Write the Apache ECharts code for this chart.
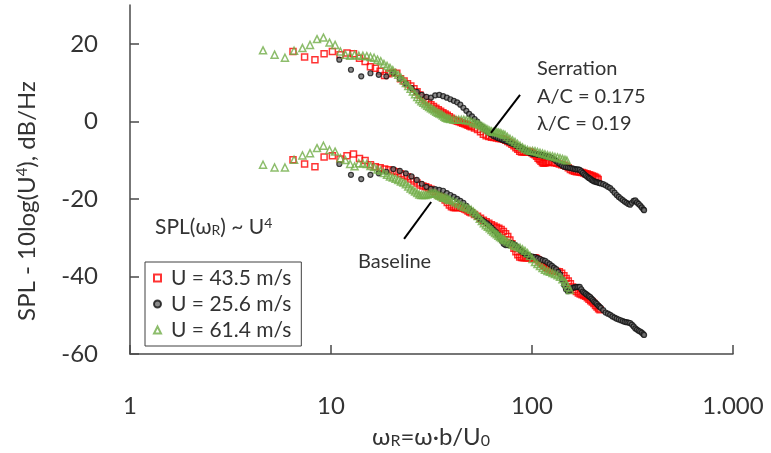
<!DOCTYPE html>
<html><head><meta charset="utf-8">
<script src="https://cdn.jsdelivr.net/npm/echarts@6/dist/echarts.min.js"></script>
<style>html,body{margin:0;padding:0;background:#fff}#c{width:771px;height:453px}</style>
</head><body><div id="c"></div>
<script>
// ---- tick values / labels ----
const xTickValues = [1, 10, 100, 1000];
const xTickLabels = ['1', '10', '100', '1.000'];
const yTickValues = [-60, -40, -20, 0, 20];
const seriesNames = ['U = 43.5 m/s', 'U = 25.6 m/s', 'U = 61.4 m/s'];

// ---- Serration (upper group), [omega_R, SPL - 10log(U^4)] ----
const serration43 = [[6.47,18.0],[7.39,16.6],[8.32,15.9],[9.24,17.4],[10.16,18.0],[11.09,17.2],[12.01,17.6],[12.94,17.4],[13.86,16.3],[14.78,15.4],[15.71,14.1],[16.63,13.7],[17.56,12.9],[18.48,11.8],[19.4,12.3],[20.33,12.6],[21.25,12.4],[22.18,11.0],[23.1,10.4],[24.02,9.7],[24.95,9.1],[25.87,8.4],[26.8,7.6],[27.72,6.8],[28.64,6.1],[29.57,5.5],[30.49,4.9],[31.42,4.3],[32.34,3.8],[33.26,3.4],[34.19,3.0],[35.11,2.6],[36.04,2.2],[36.96,1.9],[37.88,1.6],[38.81,1.2],[39.73,0.8],[40.66,0.4],[41.58,0.2],[42.5,0.0],[43.43,-0.1],[44.35,-0.3],[45.28,-0.5],[46.2,-0.6],[47.12,-0.8],[48.05,-1.0],[48.97,-1.2],[49.9,-1.4],[51.74,-1.7],[53.59,-2.1],[55.44,-2.7],[57.29,-3.3],[59.14,-3.7],[60.98,-3.9],[62.83,-4.1],[64.68,-4.2],[66.53,-4.3],[68.38,-4.4],[70.22,-4.5],[72.07,-4.6],[73.92,-4.9],[75.77,-5.2],[77.62,-5.5],[79.46,-5.9],[81.31,-6.3],[83.16,-6.8],[85.01,-7.2],[86.86,-7.7],[88.7,-7.9],[90.55,-7.9],[92.4,-7.9],[94.25,-7.9],[96.1,-7.8],[97.94,-7.9],[99.79,-8.1],[101.64,-8.4],[103.49,-8.6],[105.34,-9.0],[107.18,-9.5],[109.03,-9.9],[110.88,-10.3],[112.73,-10.7],[114.58,-10.8],[116.42,-10.7],[118.27,-10.6],[120.12,-10.5],[121.97,-10.5],[125.66,-10.6],[129.36,-10.7],[133.06,-10.8],[136.75,-11.0],[140.45,-11.2],[144.14,-11.3],[147.84,-11.6],[151.54,-12.0],[155.23,-12.4],[158.93,-12.7],[162.62,-12.9],[166.32,-13.0],[170.02,-13.0],[173.71,-13.1],[177.41,-13.2],[181.1,-13.3],[184.8,-13.5],[188.5,-13.6],[192.19,-13.8],[195.89,-13.9],[199.58,-14.1],[203.28,-14.2],[206.98,-14.4],[210.67,-14.7],[213.5,-15.0]];
const serration25 = [[11.0,15.9],[12.57,13.3],[14.14,11.6],[15.71,12.4],[17.28,12.0],[18.85,11.6],[20.42,12.5],[22.0,11.0],[23.57,9.7],[25.14,8.6],[26.71,7.6],[28.28,6.8],[29.85,6.3],[31.42,6.1],[32.99,6.7],[34.56,6.8],[36.13,6.5],[37.7,6.1],[39.27,5.7],[40.84,5.3],[42.41,4.9],[43.98,4.3],[45.55,3.5],[47.12,2.7],[48.69,1.9],[50.26,1.3],[51.83,0.6],[53.4,-0.1],[54.97,-0.9],[56.54,-1.4],[58.11,-1.9],[59.68,-2.5],[61.25,-3.0],[62.82,-3.4],[64.39,-3.8],[65.96,-4.0],[67.53,-4.3],[69.1,-4.5],[70.67,-4.7],[72.24,-4.9],[73.81,-5.0],[75.38,-5.2],[76.95,-5.4],[78.52,-5.6],[80.09,-5.8],[81.66,-6.0],[83.23,-6.2],[84.8,-6.4],[86.37,-6.5],[87.94,-6.7],[89.51,-7.0],[91.08,-7.2],[92.65,-7.4],[94.22,-7.7],[95.79,-7.9],[97.36,-8.1],[98.93,-8.2],[100.5,-8.3],[102.07,-8.4],[103.64,-8.4],[105.21,-8.5],[106.78,-8.5],[108.35,-8.6],[109.92,-8.6],[111.49,-8.7],[113.06,-8.8],[114.63,-8.9],[116.2,-8.9],[117.77,-9.0],[119.34,-9.1],[120.91,-9.1],[122.48,-9.2],[125.62,-9.5],[128.76,-9.8],[131.9,-10.2],[135.04,-10.7],[138.18,-11.0],[141.32,-11.4],[144.46,-11.7],[147.6,-11.8],[150.74,-11.9],[153.88,-12.0],[157.02,-12.1],[160.16,-12.2],[163.3,-12.3],[166.44,-12.4],[169.58,-12.4],[172.72,-12.5],[175.86,-12.9],[179.0,-13.3],[182.14,-13.7],[185.28,-14.0],[188.42,-14.3],[191.56,-14.6],[194.7,-14.8],[197.84,-15.1],[200.98,-15.3],[204.12,-15.5],[207.26,-15.6],[210.4,-15.7],[213.54,-15.8],[216.68,-15.9],[219.82,-16.0],[226.1,-16.2],[232.38,-16.5],[238.66,-16.9],[244.94,-17.2],[251.22,-17.8],[257.5,-18.4],[263.78,-19.0],[270.06,-19.5],[276.34,-19.9],[282.62,-20.3],[288.9,-20.7],[295.18,-21.0],[301.46,-21.3],[307.74,-21.5],[314.02,-21.0],[320.3,-20.5],[326.58,-20.4],[332.86,-20.9],[339.14,-21.3],[345.42,-21.7],[351.7,-22.2],[357.98,-22.7],[361.12,-22.9]];
const serration61 = [[4.59,18.3],[5.24,17.2],[5.90,16.4],[6.55,18.2],[7.21,18.9],[7.86,19.7],[8.52,21.2],[9.17,21.6],[9.83,20.3],[10.48,19.7],[11.14,18.0],[11.79,17.2],[12.45,16.9],[13.1,17.2],[13.76,16.9],[14.41,16.9],[15.07,16.8],[15.72,16.6],[16.38,16.4],[17.03,15.9],[17.69,15.5],[18.34,14.8],[19.0,14.3],[19.65,13.8],[20.3,13.2],[20.96,12.5],[21.6,12.0],[22.27,11.3],[22.93,10.6],[23.58,9.9],[24.24,9.1],[24.89,8.4],[25.55,7.7],[26.2,7.0],[26.86,6.3],[27.51,5.7],[28.17,5.2],[28.82,4.8],[29.48,4.4],[30.13,4.0],[30.79,3.7],[31.44,3.4],[32.1,3.1],[32.75,2.8],[33.4,2.5],[34.06,2.2],[34.7,2.0],[35.4,1.8],[36.0,1.5],[36.7,1.2],[37.3,0.9],[38.0,0.8],[38.6,0.7],[39.3,0.6],[40.6,0.5],[41.9,0.4],[43.2,0.4],[44.5,0.4],[45.8,0.4],[47.1,0.3],[48.5,0.2],[49.8,0.0],[51.1,-0.3],[52.4,-0.5],[53.7,-0.7],[55.0,-0.9],[56.3,-1.2],[57.6,-1.5],[58.9,-1.8],[60.3,-2.1],[61.6,-2.4],[62.9,-2.6],[64.2,-2.7],[65.5,-2.7],[66.8,-2.8],[68.1,-2.9],[69.4,-3.0],[70.7,-3.2],[72.1,-3.4],[73.4,-3.5],[75.4,-4.0],[77.7,-4.5],[80.0,-4.9],[82.3,-5.3],[84.7,-5.8],[87.2,-6.3],[89.7,-6.7],[92.3,-7.1],[95.0,-7.4],[97.7,-7.6],[100.6,-7.6],[103.5,-7.7],[106.5,-7.9],[109.6,-8.1],[112.8,-8.3],[116.0,-8.5],[119.4,-8.7],[122.9,-8.9],[126.5,-9.0],[130.1,-9.2],[133.9,-9.3],[137.8,-9.5],[141.8,-9.7],[145.9,-9.9],[149.2,-10.1]];

// ---- Baseline (lower group) ----
const baseline43 = [[6.47,-9.9],[7.39,-11.0],[8.32,-11.7],[9.24,-9.2],[10.16,-8.9],[11.09,-9.7],[12.01,-8.9],[12.94,-8.4],[13.86,-9.6],[14.78,-10.1],[15.71,-11.2],[16.63,-11.7],[17.56,-12.0],[18.48,-12.3],[19.4,-12.5],[20.33,-12.8],[21.25,-13.0],[22.18,-13.5],[23.1,-13.9],[24.02,-14.3],[24.95,-14.9],[25.87,-15.4],[26.8,-15.9],[27.72,-16.4],[28.64,-16.7],[29.57,-16.9],[30.49,-17.2],[31.42,-17.5],[32.34,-18.1],[33.26,-18.6],[34.19,-19.0],[35.11,-19.3],[36.04,-19.8],[36.96,-20.3],[37.88,-20.9],[38.81,-21.6],[39.73,-22.0],[40.66,-22.2],[41.58,-22.3],[42.5,-22.2],[43.43,-22.1],[44.35,-22.2],[45.28,-22.4],[46.2,-22.6],[47.12,-22.8],[48.05,-23.1],[48.97,-23.4],[49.9,-23.6],[51.74,-24.0],[53.59,-24.5],[55.44,-25.0],[57.29,-25.5],[59.14,-25.9],[60.98,-26.3],[62.83,-26.7],[64.68,-27.0],[66.53,-27.3],[68.38,-27.6],[70.22,-27.9],[72.07,-28.4],[73.92,-29.0],[75.77,-29.7],[77.62,-30.6],[79.46,-31.6],[81.31,-32.7],[83.16,-33.6],[85.01,-34.4],[86.86,-35.0],[88.7,-35.1],[90.55,-35.2],[92.4,-35.2],[94.25,-35.2],[96.1,-35.2],[97.94,-35.2],[99.79,-35.2],[101.64,-35.2],[103.49,-35.2],[105.34,-35.4],[107.18,-35.7],[109.03,-36.0],[110.88,-36.4],[112.73,-36.8],[114.58,-37.1],[116.42,-37.4],[118.27,-37.7],[120.12,-37.9],[121.97,-38.1],[125.66,-38.4],[129.36,-38.6],[133.06,-38.7],[136.75,-38.8],[140.45,-39.2],[144.14,-39.8],[147.84,-40.5],[151.54,-41.2],[155.23,-41.9],[158.93,-42.7],[162.62,-43.4],[166.32,-43.9],[170.02,-44.3],[173.71,-44.5],[177.41,-44.7],[181.1,-44.9],[184.8,-45.1],[188.5,-45.5],[192.19,-45.9],[195.89,-46.3],[199.58,-46.6],[203.28,-47.0],[206.98,-47.5],[210.67,-47.9],[214.37,-48.3],[218.06,-48.6]];
const baseline25 = [[11.0,-11.0],[12.57,-13.8],[14.14,-14.9],[15.71,-13.8],[17.28,-13.4],[18.85,-13.0],[20.42,-12.3],[22.0,-12.8],[23.57,-13.4],[25.14,-14.2],[26.71,-15.1],[28.28,-16.1],[29.85,-16.9],[31.42,-17.4],[32.99,-17.5],[34.56,-17.7],[36.13,-17.9],[37.7,-18.5],[39.27,-19.0],[40.84,-19.5],[42.41,-20.0],[43.98,-20.5],[45.55,-21.0],[47.12,-21.8],[48.69,-22.6],[50.26,-23.2],[51.83,-24.0],[53.4,-24.6],[54.97,-25.1],[56.54,-25.5],[58.11,-25.9],[59.68,-26.3],[61.25,-26.8],[62.82,-27.4],[64.39,-28.0],[65.96,-28.5],[67.53,-29.2],[69.1,-30.0],[70.67,-30.8],[72.24,-31.6],[73.81,-31.9],[75.38,-31.9],[76.95,-31.6],[78.52,-31.4],[80.09,-31.5],[81.66,-31.8],[83.23,-32.1],[84.8,-32.5],[86.37,-33.0],[87.94,-33.3],[89.51,-33.6],[91.08,-33.9],[92.65,-34.2],[94.22,-34.4],[95.79,-34.6],[97.36,-34.7],[100.5,-34.9],[103.64,-35.0],[106.78,-35.3],[109.92,-35.5],[113.06,-35.8],[116.2,-36.0],[119.34,-36.4],[122.48,-36.8],[125.62,-37.3],[128.76,-37.7],[131.9,-38.1],[135.04,-38.8],[138.18,-39.5],[141.32,-40.8],[144.46,-42.2],[147.6,-43.3],[150.74,-43.8],[153.88,-43.6],[157.02,-43.1],[160.16,-42.9],[163.3,-42.8],[166.44,-42.7],[169.58,-42.7],[172.72,-42.7],[175.86,-43.3],[179.0,-43.9],[182.14,-44.2],[185.28,-44.5],[188.42,-44.8],[191.56,-45.1],[194.7,-45.3],[197.84,-45.7],[200.98,-46.1],[204.12,-46.5],[207.26,-46.8],[210.4,-47.1],[213.54,-47.5],[216.68,-47.8],[219.82,-48.1],[226.1,-48.7],[232.38,-49.3],[238.66,-49.6],[244.94,-49.9],[251.22,-50.3],[257.5,-50.6],[263.78,-50.9],[270.06,-51.1],[276.34,-51.3],[282.62,-51.5],[288.9,-51.7],[295.18,-51.8],[301.46,-51.9],[307.74,-52.0],[314.02,-52.4],[320.3,-52.9],[326.58,-53.4],[332.86,-53.7],[339.14,-54.0],[345.42,-54.2],[351.7,-54.5],[357.98,-54.9],[361.12,-55.1]];
const baseline61 = [[4.59,-11.2],[5.24,-11.9],[5.90,-11.9],[6.55,-9.9],[7.21,-8.8],[7.86,-8.2],[8.52,-6.9],[9.17,-6.3],[9.83,-7.4],[10.48,-7.8],[11.14,-9.5],[11.79,-10.0],[12.45,-11.0],[13.1,-11.6],[13.76,-10.8],[14.41,-10.9],[15.07,-11.0],[15.72,-11.5],[16.38,-11.8],[17.03,-12.4],[17.69,-12.7],[18.34,-13.3],[19.0,-13.8],[19.65,-14.2],[20.3,-14.5],[20.96,-14.8],[21.6,-15.1],[22.27,-15.5],[22.93,-15.8],[23.58,-16.2],[24.24,-16.8],[24.89,-17.3],[25.55,-17.7],[26.2,-18.1],[26.86,-18.5],[27.51,-18.9],[28.17,-19.0],[28.82,-19.0],[29.48,-19.0],[30.13,-18.9],[30.79,-18.7],[31.44,-18.6],[32.1,-18.5],[32.75,-18.5],[33.4,-18.7],[34.06,-19.0],[34.7,-19.2],[35.4,-19.4],[36.0,-19.6],[36.7,-19.7],[37.3,-19.8],[38.0,-20.0],[38.6,-20.2],[39.3,-20.3],[40.6,-20.6],[41.9,-20.9],[43.2,-21.3],[44.5,-21.7],[45.8,-22.0],[47.1,-22.2],[48.5,-22.5],[49.8,-22.8],[51.1,-23.3],[52.4,-23.8],[53.7,-24.4],[55.0,-25.1],[56.3,-25.7],[57.6,-26.3],[58.9,-26.8],[60.3,-27.2],[61.6,-27.6],[62.9,-28.0],[64.2,-28.4],[65.5,-28.8],[66.8,-29.1],[68.1,-29.5],[69.4,-29.8],[70.7,-30.1],[72.1,-30.4],[73.4,-30.6],[75.4,-31.0],[77.7,-31.4],[80.0,-31.8],[82.3,-32.1],[84.7,-32.4],[87.2,-32.6],[89.7,-33.0],[92.3,-33.4],[95.0,-34.0],[97.7,-34.7],[100.6,-35.5],[103.5,-36.3],[106.5,-36.8],[109.6,-37.3],[112.8,-37.8],[116.0,-38.3],[119.4,-38.6],[122.9,-38.8],[126.5,-39.1],[130.1,-39.4],[133.9,-39.7],[137.8,-40.1],[141.8,-40.7],[145.9,-41.4],[148.5,-42.0],[151.5,-42.8],[154.5,-43.5]];

// ---- annotation pointer lines (data coordinates) ----
const serrationPointer = [[87.2, 6.8], [62.5, -3.0]];
const baselinePointer = [[31.5, -20.8], [23.1, -30.3]];

const FONT = 'Lato, "Open Sans", sans-serif';
const TXT = '#333333';
const AX = '#4a4a4a';

const styleRed = { symbol: 'rect', symbolSize: 6, itemStyle: { color: 'rgba(255,255,255,0)', borderColor: '#ff0000', borderWidth: 1.5 } };
const styleBlack = { symbol: 'circle', symbolSize: 5, itemStyle: { color: '#6e6e6e', borderColor: '#111111', borderWidth: 1.2 } };
const styleGreen = { symbol: 'triangle', symbolSize: 7, itemStyle: { color: 'rgba(255,255,255,0)', borderColor: '#70ad47', borderWidth: 1.5 } };

function sc(name, data, st) {
  return Object.assign({ type: 'scatter', name: name, data: data, silent: true }, st);
}
function pointer(data) {
  return { type: 'line', data: data, symbol: 'none', silent: true, z: 5,
    lineStyle: { color: '#000', width: 2 } };
}

const chart = echarts.init(document.getElementById('c'), null, { renderer: 'canvas' });
chart.setOption({
  animation: false,
  backgroundColor: '#ffffff',
  textStyle: { fontFamily: FONT },
  grid: { left: 130, right: 38, top: 5, bottom: 99, outerBoundsMode: 'none' },
  xAxis: {
    type: 'log', logBase: 10, min: 1, max: 1000,
    axisLine: { show: true, onZero: false, lineStyle: { color: AX, width: 1.5 } },
    axisTick: { show: true, inside: true, length: 9, lineStyle: { color: AX, width: 1.5 } },
    minorTick: { show: false },
    splitLine: { show: false },
    axisLabel: {
      margin: 40, fontSize: 24, color: TXT, fontFamily: FONT,
      formatter: function (v) {
        const i = xTickValues.findIndex(t => Math.abs(t - v) / t < 1e-6);
        return i >= 0 ? xTickLabels[i] : '';
      }
    }
  },
  yAxis: {
    type: 'value', min: -60, max: 30,
    axisLine: { show: true, onZero: false, lineStyle: { color: AX, width: 1.5 } },
    axisTick: { show: true, inside: true, length: 9, customValues: yTickValues, lineStyle: { color: AX, width: 1.5 } },
    splitLine: { show: false },
    axisLabel: { margin: 32, fontSize: 24, color: TXT, fontFamily: FONT, customValues: yTickValues }
  },
  legend: {
    data: seriesNames,
    orient: 'vertical', left: 145, top: 262,
    backgroundColor: '#ffffff',
    borderColor: '#404040', borderWidth: 1, borderRadius: 0,
    padding: [4, 10, 4, 8], itemGap: 2, itemWidth: 7, itemHeight: 7,
    textStyle: { fontSize: 21, color: TXT, fontFamily: FONT, lineHeight: 24, padding: [0, 0, 0, 5] },
    selectedMode: false
  },
  graphic: [
    { type: 'text', x: 27, y: 201, rotation: Math.PI / 2,
      style: { text: 'SPL - 10log(U{sup|4}), dB/Hz', font: '24px ' + FONT, fill: TXT, align: 'center', verticalAlign: 'middle',
        rich: { sup: { fontSize: 15, fontFamily: FONT, fill: TXT, verticalAlign: 'top', lineHeight: 13 } } } },
    { type: 'text', x: 431, y: 437,
      style: { text: 'ω{sub|R}=ω·b/U{sub|0}', font: '24px ' + FONT, fill: TXT, align: 'center', verticalAlign: 'middle',
        rich: { sub: { fontSize: 16, fontFamily: FONT, fill: TXT, verticalAlign: 'bottom', lineHeight: 12 } } } },
    { type: 'text', x: 155, y: 227,
      style: { text: 'SPL(ω{sub|R}) ~ U{sup|4}', font: '21px ' + FONT, fill: TXT, align: 'left', verticalAlign: 'middle',
        rich: { sub: { fontSize: 14, fontFamily: FONT, fill: TXT, verticalAlign: 'bottom', lineHeight: 11 },
                sup: { fontSize: 14, fontFamily: FONT, fill: TXT, verticalAlign: 'top', lineHeight: 11 } } } },
    { type: 'text', x: 537, y: 69, style: { text: 'Serration', font: '20px ' + FONT, fill: TXT, align: 'left', verticalAlign: 'middle' } },
    { type: 'text', x: 537, y: 97, style: { text: 'A/C = 0.175', font: '20px ' + FONT, fill: TXT, align: 'left', verticalAlign: 'middle' } },
    { type: 'text', x: 537, y: 124, style: { text: 'λ/C = 0.19', font: '20px ' + FONT, fill: TXT, align: 'left', verticalAlign: 'middle' } },
    { type: 'text', x: 358, y: 262, style: { text: 'Baseline', font: '20px ' + FONT, fill: TXT, align: 'left', verticalAlign: 'middle' } }
  ],
  series: [
    sc(seriesNames[0], serration43, styleRed),
    sc(seriesNames[0], baseline43, styleRed),
    sc(seriesNames[1], serration25, styleBlack),
    sc(seriesNames[1], baseline25, styleBlack),
    sc(seriesNames[2], serration61, styleGreen),
    sc(seriesNames[2], baseline61, styleGreen),
    pointer(serrationPointer),
    pointer(baselinePointer)
  ]
});
</script></body></html>
